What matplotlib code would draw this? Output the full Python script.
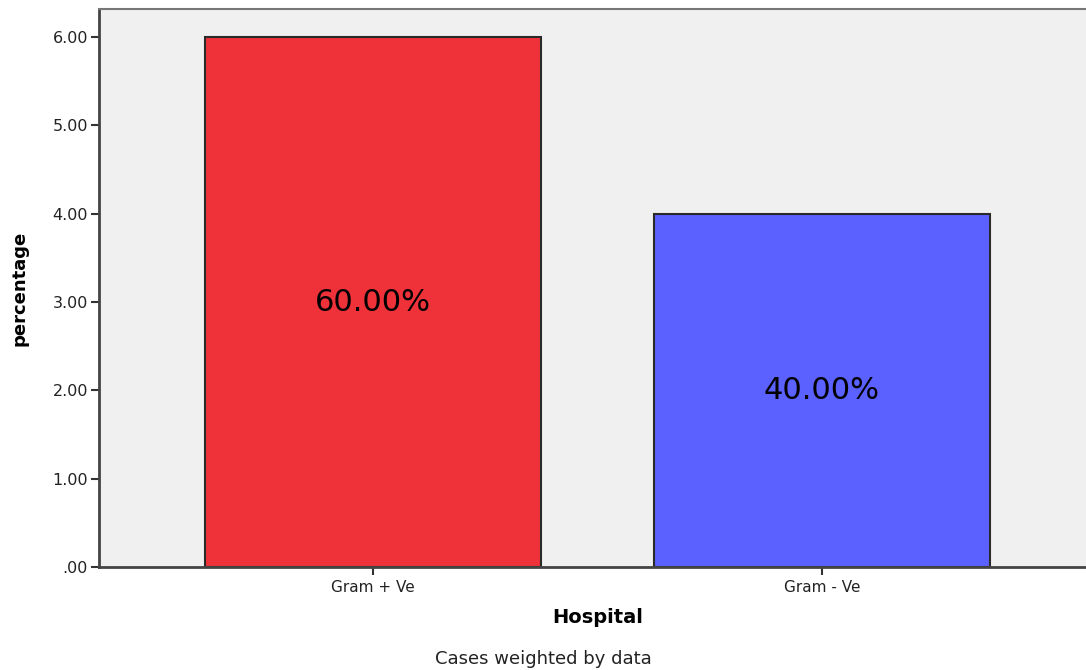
import matplotlib
matplotlib.use("Agg")
import matplotlib.pyplot as plt
from matplotlib.ticker import FuncFormatter

# bacterial gram stain split, weighted counts
categories = ["Gram + Ve", "Gram - Ve"]
counts = [6.0, 4.0]
percent_labels = ["60.00%", "40.00%"]
bar_colors = ["#EF3239", "#5B61FE"]
y_ticks = [0, 1, 2, 3, 4, 5, 6]

plt.rcParams['font.family'] = ['DejaVu Sans']

fig = plt.figure(figsize=(10.86, 6.70), dpi=100)
fig.patch.set_facecolor('white')
ax = fig.add_axes([0.0912, 0.1537, 1.0092 - 0.0912, 0.9866 - 0.1537])
ax.set_facecolor('#F0F0F0')

x = list(range(len(categories)))
bars = ax.bar(x, counts, width=0.75, color=bar_colors,
              edgecolor='#2a2a2a', linewidth=1.5, zorder=2)

# percentage text in the middle of each bar
for xi, val, lab in zip(x, counts, percent_labels):
    ax.text(xi, val / 2, lab, ha='center', va='center',
            fontsize=22, color='black', zorder=3)

ax.set_xlim(-0.611, 1.611)
ax.set_ylim(0, 6.317)
ax.set_xticks(x)
ax.set_xticklabels(categories, fontsize=11, color='#222222')
ax.set_yticks(y_ticks)


def spss_fmt(v, pos):
    s = f"{v:.2f}"
    return s[1:] if s.startswith("0") else s


ax.yaxis.set_major_formatter(FuncFormatter(spss_fmt))
ax.tick_params(axis='y', labelsize=11.5, length=6, width=1.5,
               color='#333333', labelcolor='#222222', pad=2)
ax.tick_params(axis='x', length=6, width=1.5, color='#333333', pad=3)

for side in ['left', 'bottom']:
    ax.spines[side].set_color('#444444')
    ax.spines[side].set_linewidth(2)
ax.spines['top'].set_color('#777777')
ax.spines['top'].set_linewidth(1.5)
ax.spines['right'].set_visible(False)

ax.set_xlabel("Hospital", fontsize=14, fontweight='bold', labelpad=10)
ax.set_ylabel("percentage", fontsize=13, fontweight='bold', labelpad=17)

fig.text(0.5, 0.016, "Cases weighted by data", ha='center', va='center',
         fontsize=13, color='#222222')

plt.savefig("out.png", dpi=100, facecolor='white')
plt.close()
